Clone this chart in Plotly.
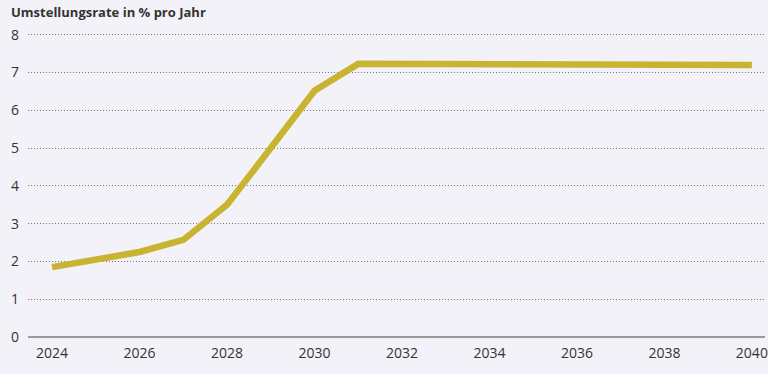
import plotly.graph_objects as go

# Annual conversion rate in percent
years = [2024, 2025, 2026, 2027, 2028, 2029, 2030, 2031, 2032, 2033, 2034, 2035, 2036, 2037, 2038, 2039, 2040]
rate = [1.85, 2.05, 2.25, 2.57, 3.5, 5.0, 6.52, 7.23, 7.23, 7.23, 7.22, 7.22, 7.21, 7.21, 7.21, 7.21, 7.2]

x_ticks = [2024, 2026, 2028, 2030, 2032, 2034, 2036, 2038, 2040]
y_ticks = [0, 1, 2, 3, 4, 5, 6, 7, 8]

bg = "#f3f2f8"
font_family = "Open Sans, Noto Sans, sans-serif"

fig = go.Figure()
fig.add_trace(go.Scatter(
    x=years, y=rate, mode="lines",
    line=dict(color="#c9b431", width=6.5),
    hoverinfo="skip",
))

fig.update_layout(
    width=768, height=374,
    margin=dict(l=28, r=0, t=31, b=37),
    paper_bgcolor=bg, plot_bgcolor=bg,
    showlegend=False,
    font=dict(family=font_family, size=14, color="#333333"),
    annotations=[dict(
        text="<b>Umstellungsrate in % pro Jahr</b>",
        xref="paper", yref="paper", x=0, y=1,
        xanchor="left", yanchor="bottom",
        xshift=-19, yshift=8,
        showarrow=False,
        font=dict(family=font_family, size=13, color="#333333"),
    )],
)
fig.update_xaxes(
    range=[2023.45, 2040.3],
    tickvals=x_ticks, ticktext=[str(v) for v in x_ticks],
    showgrid=False, zeroline=False, showline=False,
    ticks="", ticklabelstandoff=6, ticklabeloverflow="allow",
)
fig.update_yaxes(
    range=[0, 8.1],
    tickvals=y_ticks, ticktext=[str(v) for v in y_ticks],
    showgrid=True, gridcolor="#7a7a7a", gridwidth=1, griddash="1px,2px",
    zeroline=True, zerolinecolor="#9a9a9a", zerolinewidth=1.5,
    showline=False, ticks="", ticklabelstandoff=8,
)

fig.write_html("out.html")
